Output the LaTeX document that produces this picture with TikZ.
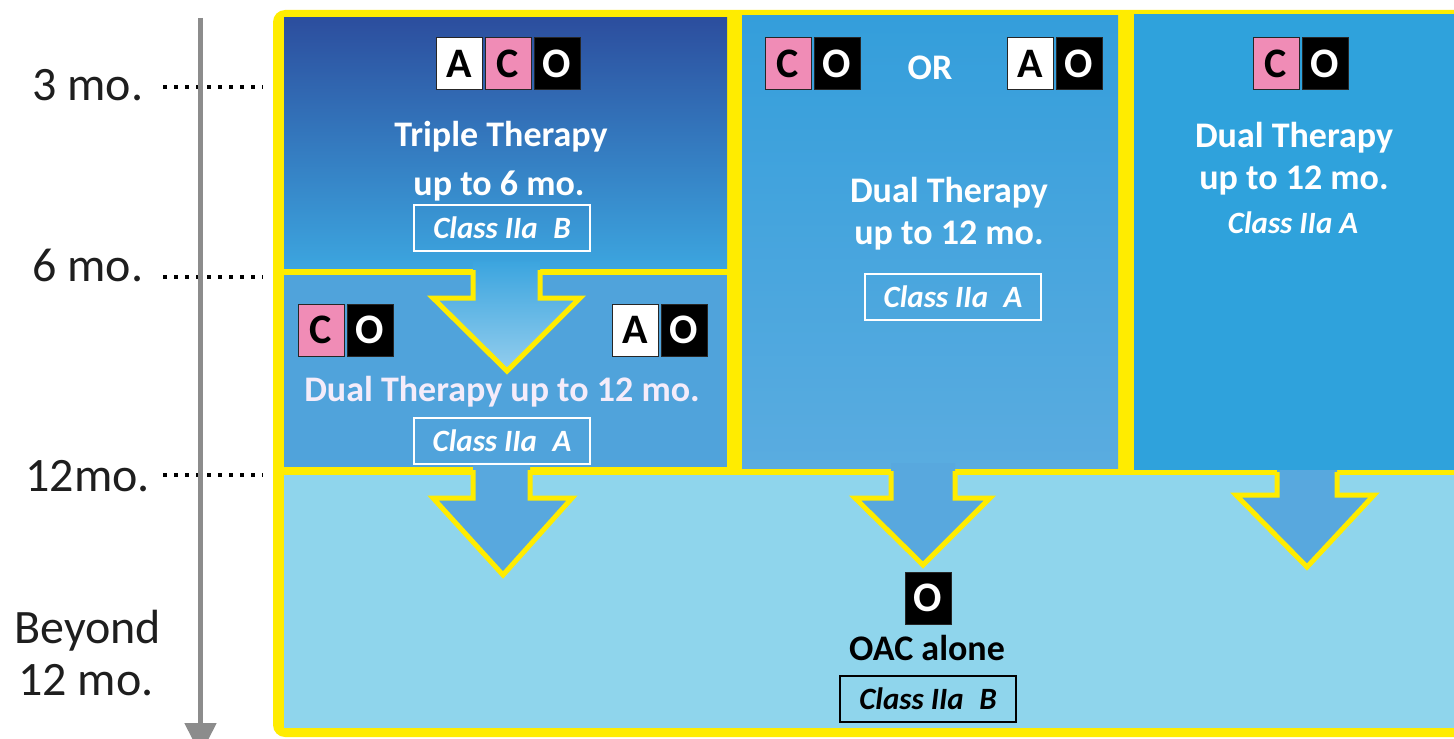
\documentclass[tikz,border=0pt]{standalone}
\usepackage{fontspec}
\setmainfont{Carlito}
\usetikzlibrary{positioning,arrows.meta}
\definecolor{yel}{RGB}{255,236,0}
\definecolor{navy}{RGB}{44,78,158}
\definecolor{skyA}{RGB}{60,165,223}
\definecolor{skyB}{RGB}{80,163,219}
\definecolor{skyC}{RGB}{52,158,219}
\definecolor{skyD}{RGB}{90,172,224}
\definecolor{skyE}{RGB}{47,162,220}
\definecolor{pale}{RGB}{143,213,236}
\definecolor{arr}{RGB}{88,168,222}
\definecolor{cpink}{RGB}{240,140,182}
\definecolor{tgray}{RGB}{140,140,140}
\definecolor{ink}{RGB}{30,30,30}
\definecolor{lilac}{RGB}{244,236,250}
\tikzset{
  tile/.style={draw=black!85, line width=0.5pt, minimum width=23pt, minimum height=26pt, inner sep=0pt, font=\fontsize{21}{21}\selectfont\bfseries},
  tileA/.style={tile, fill=white, text=black},
  tileC/.style={tile, fill=cpink, text=black},
  tileO/.style={tile, fill=black, text=white},
  title/.style={anchor=base, inner sep=0pt, text=white, font=\fontsize{18}{18}\selectfont\bfseries},
  classtxt/.style={inner sep=0pt, text=white, font=\fontsize{15.5}{15.5}\selectfont\bfseries\itshape},
  classbox/.style={classtxt, draw=white, line width=1pt, minimum width=88pt, minimum height=23pt},
  month/.style={anchor=base west, inner sep=0pt, text=ink, font=\fontsize{24}{24}\selectfont},
  leader/.style={line width=2pt, dash pattern=on 2pt off 3.5pt},
  yline/.style={draw=yel, line width=2.5pt}
}
\begin{document}
\begin{tikzpicture}[x=0.5pt,y=-0.5pt]
\useasboundingbox (0,0) rectangle (1454,738);
\clip (0,0) rectangle (1454,738);
\fill[white] (0,0) rectangle (1454,738);
\fill[yel, rounded corners=6pt] (273,10) rectangle (1480,737);

\shade[top color=navy, bottom color=skyA] (284,18) rectangle (727,268);
\fill[skyB] (284,275) rectangle (727,467);
\shade[top color=skyC, bottom color=skyD] (742,16) rectangle (1118,468);
\fill[skyE] (1134,14) rectangle (1480,470);
\fill[pale] (284,475) rectangle (1480,728);

\shade[top color=skyA, bottom color=skyA!55!white] (473,262) -- (473,298) -- (433,298) -- (507,371) -- (580,298) -- (540,298) -- (540,262) -- cycle;
\draw[yline] (473,270) -- (473,298) -- (433,298) -- (507,371) -- (580,298) -- (540,298) -- (540,270);
\fill[arr] (473,462) -- (473,498) -- (433,498) -- (503,575) -- (572,498) -- (530,498) -- (530,462) -- cycle;
\draw[yline] (473,470) -- (473,498) -- (433,498) -- (503,575) -- (572,498) -- (530,498) -- (530,470);
\fill[arr] (891,463) -- (891,498) -- (855,498) -- (923,565) -- (990,498) -- (955,498) -- (955,463) -- cycle;
\draw[yline] (891,471) -- (891,498) -- (855,498) -- (923,565) -- (990,498) -- (955,498) -- (955,471);
\fill[arr] (1277,470) -- (1277,495) -- (1236,495) -- (1307,567) -- (1374,495) -- (1337,495) -- (1337,470) -- cycle;
\draw[yline] (1277,472) -- (1277,495) -- (1236,495) -- (1307,567) -- (1374,495) -- (1337,495) -- (1337,472);

\node[tileA] (a1) at (459,64) {A};
\node[tileC, right=1pt of a1] (c1) {C};
\node[tileO, right=1pt of c1] (o1) {O};
\node[title] (tt1) at (501,146) {Triple Therapy};
\node[title] (tt2) at (499,195) {up to 6 mo.};
\node[classbox] (k1) at (502,228) {Class IIa\enspace B};

\node[tileC] (c2) at (321,330) {C};
\node[tileO, right=1pt of c2] (o2) {O};
\node[tileA] (a3) at (635,330) {A};
\node[tileO, right=1pt of a3] (o3) {O};
\node[title, text=lilac] (dt1) at (502,401) {Dual Therapy up to 12 mo.};
\node[classbox] (k2) at (502,441) {Class IIa\enspace A};

\node[tileC] (c4) at (788,64) {C};
\node[tileO, right=1pt of c4] (o4) {O};
\node[title] (or) at (930,80) {OR};
\node[tileA] (a5) at (1030,64) {A};
\node[tileO, right=1pt of a5] (o5) {O};
\node[title] (dt2) at (949,202) {Dual Therapy};
\node[title] (dt3) at (949,244) {up to 12 mo.};
\node[classbox] (k3) at (953,297) {Class IIa\enspace A};

\node[tileC] (c6) at (1276,64) {C};
\node[tileO, right=1pt of c6] (o6) {O};
\node[title] (dt4) at (1294,148) {Dual Therapy};
\node[title] (dt5) at (1294,189) {up to 12 mo.};
\node[classtxt, anchor=base] (k4) at (1293,233) {Class IIa A};

\node[tileO] (o7) at (928,598) {O};
\node[title, text=black] (oac) at (927,660) {OAC alone};
\node[classbox, draw=black, text=black] (k5) at (928,699) {Class IIa\enspace B};

\node[month] (m3) at (32,101) {3 mo.};
\node[month] (m6) at (32,281) {6 mo.};
\node[month] (m12) at (25,491) {12mo.};
\node[month] (mb1) at (14,643) {Beyond};
\node[month] (mb2) at (18,695) {12 mo.};

\coordinate (l3a) at (163,87);
\coordinate (l3b) at (263,87);
\coordinate (l6a) at (163,277);
\coordinate (l6b) at (263,277);
\coordinate (l12a) at (163,475);
\coordinate (l12b) at (263,475);
\draw[leader] (l3a) -- (l3b);
\draw[leader] (l6a) -- (l6b);
\draw[leader] (l12a) -- (l12b);

\coordinate (tl0) at (200.5,18);
\coordinate (tl1) at (200.5,755);
\draw[tgray, line width=2.5pt, -{Triangle[width=15.5pt,length=16pt]}] (tl0) -- (tl1);
\end{tikzpicture}
\end{document}
